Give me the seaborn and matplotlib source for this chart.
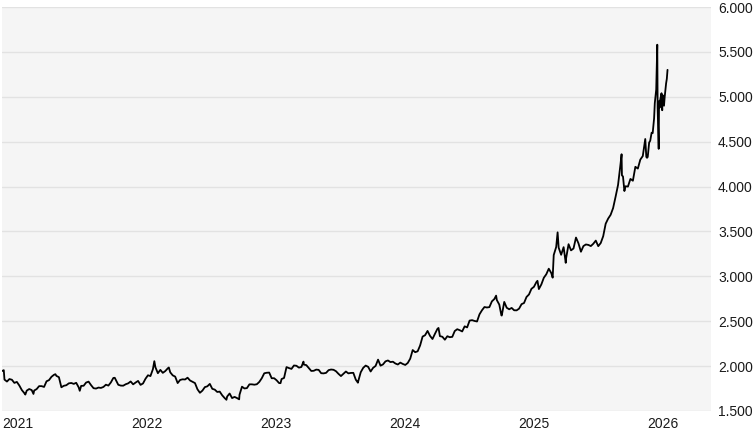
import pandas as pd
import matplotlib.pyplot as plt
import matplotlib.dates as mdates
import matplotlib.ticker as mticker
import seaborn as sns

# weekly Friday closes, USD per ounce
prices_2021 = [1945,
               1850, 1828, 1856, 1848,
               1813, 1824, 1784, 1734,
               1700, 1727, 1745, 1733,
               1728, 1744, 1777, 1777, 1768,
               1831, 1844, 1881, 1903,
               1891, 1877, 1764, 1781,
               1787, 1808, 1812, 1802, 1814,
               1763, 1780, 1781, 1817,
               1827, 1788, 1754, 1750,
               1761, 1757, 1768, 1793, 1783,
               1818, 1868, 1846, 1792,
               1783, 1782, 1798, 1808, 1829]
prices_2022 = [1797, 1817, 1835, 1791,
               1807, 1859, 1898, 1889,
               1966, 1988, 1921, 1958,
               1925, 1945, 1975, 1931, 1897,
               1883, 1811, 1846, 1853,
               1851, 1871, 1840, 1826,
               1811, 1742, 1703, 1727, 1766,
               1775, 1802, 1747, 1738,
               1712, 1716, 1675, 1644, 1661,
               1695, 1644, 1657, 1644,
               1681, 1771, 1751, 1755,
               1797, 1797, 1793, 1798, 1824]
prices_2023 = [1865, 1920, 1926, 1928,
               1865, 1865, 1842, 1811,
               1856, 1868, 1989, 1978, 1969,
               2007, 2004, 1983, 1990,
               2017, 2011, 1978, 1946,
               1948, 1961, 1958, 1921, 1919,
               1925, 1955, 1962, 1959,
               1943, 1914, 1889, 1915,
               1940, 1919, 1924, 1925, 1849,
               1833, 1932, 1981, 2006,
               1992, 1940, 1981, 2002,
               2072, 2005, 2019, 2053, 2063]
prices_2024 = [2045, 2049, 2029, 2018,
               2039, 2024, 2013, 2035,
               2083, 2179, 2155, 2165, 2230,
               2329, 2344, 2392, 2337,
               2302, 2360, 2415, 2334, 2327,
               2294, 2333, 2322, 2326,
               2391, 2411, 2400, 2386,
               2443, 2431, 2507, 2512, 2503,
               2497, 2577, 2622, 2658,
               2653, 2657, 2721, 2747,
               2736, 2685, 2563, 2715, 2650,
               2633, 2648, 2622, 2621]
prices_2025 = [2640, 2690, 2703, 2770, 2798,
               2861, 2883, 2936, 2858,
               2910, 2984, 3023, 3085,
               3037, 3237, 3327, 3319,
               3240, 3325, 3200, 3358, 3289,
               3310, 3432, 3368, 3274,
               3337, 3355, 3350, 3337,
               3363, 3398, 3336, 3371, 3447,
               3586, 3643, 3685, 3760,
               3886, 4018, 4250, 4112, 4003,
               4000, 4085, 4065, 4220,
               4200, 4300, 4340, 4530]

# intraweek highs and lows visible on the chart
extra_dates = ["2021-01-06", "2021-03-08", "2021-03-31", "2021-06-01", "2021-08-09",
               "2021-11-16", "2022-03-08", "2022-04-18", "2022-09-28", "2022-11-03",
               "2023-02-28", "2023-05-04", "2023-10-05", "2024-04-12", "2024-05-20",
               "2024-10-30", "2024-11-14", "2025-02-24", "2025-04-08", "2025-04-22",
               "2025-05-15", "2025-10-20", "2025-10-21", "2025-10-28"]
extra_prices = [1955, 1683, 1690, 1910, 1725,
                1870, 2055, 1985, 1625, 1630,
                1810, 2050, 1815, 2400, 2425,
                2785, 2565, 2950, 2985, 3490,
                3150, 4360, 4125, 3950]

# daily closes at the end of the series
recent_dates = ["2025-12-29", "2025-12-31", "2026-01-02", "2026-01-06", "2026-01-09",
                "2026-01-13", "2026-01-16", "2026-01-20", "2026-01-22", "2026-01-26",
                "2026-01-28", "2026-01-29", "2026-01-30", "2026-02-02", "2026-02-03",
                "2026-02-05", "2026-02-06", "2026-02-10", "2026-02-12", "2026-02-13",
                "2026-02-17", "2026-02-19", "2026-02-23", "2026-02-25", "2026-02-27"]
recent_prices = [4330, 4320, 4330, 4490, 4510,
                 4600, 4595, 4760, 4930, 5080,
                 5400, 5580, 4880, 4420, 4950,
                 4880, 4960, 5040, 4850, 5020,
                 4900, 5000, 5150, 5200, 5300]

weekly = prices_2021 + prices_2022 + prices_2023 + prices_2024 + prices_2025
weekly_dates = pd.date_range("2021-01-01", periods=len(weekly), freq="W-FRI")

df = pd.concat([
    pd.DataFrame({"date": weekly_dates, "price": weekly}),
    pd.DataFrame({"date": pd.to_datetime(extra_dates), "price": extra_prices}),
    pd.DataFrame({"date": pd.to_datetime(recent_dates), "price": recent_prices}),
]).sort_values("date").drop_duplicates("date", keep="last")

sns.set_theme(style="white", rc={"axes.facecolor": "#f5f5f5"})
plt.rcParams["font.family"] = ["Liberation Sans", "DejaVu Sans"]

fig = plt.figure(figsize=(7.53, 4.30), dpi=100)
ax = fig.add_axes([2 / 753, 19 / 430, 709 / 753, 404 / 430])

sns.lineplot(data=df, x="date", y="price", ax=ax, color="black", linewidth=1.3)

ax.set_xlim(pd.Timestamp("2021-01-01"), pd.Timestamp("2026-06-30"))
ax.set_ylim(1500, 6000)
ax.set_xlabel("")
ax.set_ylabel("")

ax.yaxis.tick_right()
ax.yaxis.set_major_locator(mticker.MultipleLocator(500))
ax.yaxis.set_major_formatter(mticker.FuncFormatter(lambda v, p: f"{v:,.0f}".replace(",", ".") if v else ""))
ax.xaxis.set_major_locator(mdates.YearLocator())
ax.xaxis.set_major_formatter(mdates.DateFormatter("%Y"))
for lbl in ax.get_xticklabels():
    lbl.set_horizontalalignment("left")

ax.tick_params(axis="both", length=0, labelsize=10, colors="#1a1a1a")
ax.tick_params(axis="y", pad=5)
ax.tick_params(axis="x", pad=4)
ax.grid(axis="y", color="#e2e2e2", linewidth=1)
ax.set_axisbelow(True)
for s in ax.spines.values():
    s.set_visible(False)

fig.savefig("out.png", dpi=100)
